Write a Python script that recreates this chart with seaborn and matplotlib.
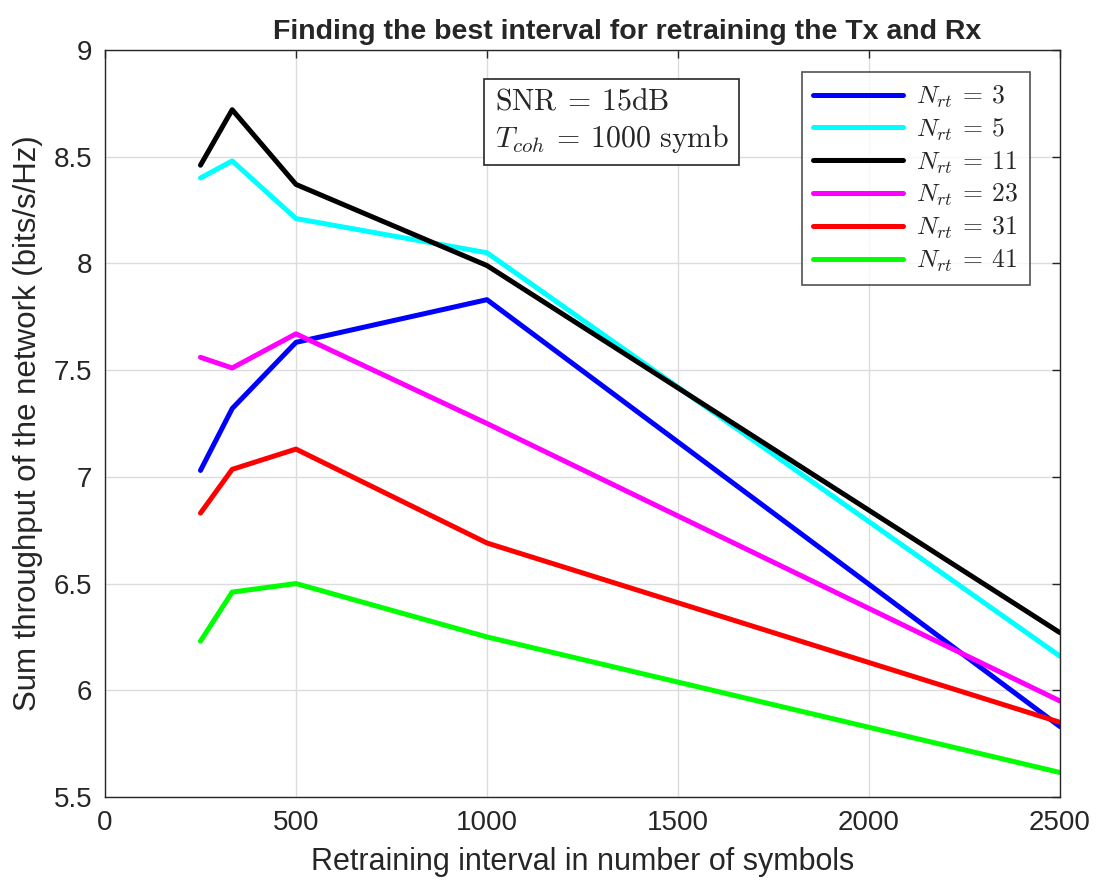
import matplotlib
matplotlib.use("Agg")
import matplotlib.pyplot as plt
import seaborn as sns
import pandas as pd

# Retraining intervals (symbols)
intervals = [250, 333, 500, 1000, 2500]

# Sum throughput (bits/s/Hz) for each number of retraining pilots
n_rt = [3, 5, 11, 23, 31, 41]
thr_3 = [7.03, 7.32, 7.63, 7.83, 5.83]
thr_5 = [8.40, 8.48, 8.21, 8.05, 6.16]
thr_11 = [8.46, 8.72, 8.37, 7.99, 6.27]
thr_23 = [7.56, 7.51, 7.67, 7.25, 5.95]
thr_31 = [6.83, 7.035, 7.13, 6.69, 5.85]
thr_41 = [6.23, 6.46, 6.50, 6.25, 5.615]

series = [thr_3, thr_5, thr_11, thr_23, thr_31, thr_41]
line_colors = ["#0000ff", "#00ffff", "#000000", "#ff00ff", "#ff0000", "#00ff00"]

x_ticks = [0, 500, 1000, 1500, 2000, 2500]
y_ticks = [5.5, 6, 6.5, 7, 7.5, 8, 8.5, 9]

labels = [rf"$N_{{rt}}\:=\:{n}$" for n in n_rt]

rows = []
for lab, vals in zip(labels, series):
    for x, y in zip(intervals, vals):
        rows.append({"interval": x, "throughput": y, "config": lab})
df = pd.DataFrame(rows)

sns.set_theme(style="white")
plt.rcParams["font.family"] = ["Liberation Sans", "DejaVu Sans"]
plt.rcParams["mathtext.fontset"] = "cm"

fig = plt.figure(figsize=(10.97, 8.92), dpi=100)
ax = fig.add_axes([0.0957, 0.1065, 0.8705, 0.8375])

sns.lineplot(data=df, x="interval", y="throughput", hue="config",
             palette=dict(zip(labels, line_colors)), hue_order=labels,
             linewidth=3.6, ax=ax, legend=True)

ax.set_xlim(0, 2500)
ax.set_ylim(5.5, 9)
ax.set_xticks(x_ticks)
ax.set_yticks(y_ticks)
ax.set_xticklabels([str(t) for t in x_ticks])
ax.set_yticklabels([f"{t:g}" for t in y_ticks])
ax.grid(True, color="#dcdcdc", linewidth=1.0)
ax.tick_params(direction="in", length=6, width=1, color="#262626",
               labelsize=20, labelcolor="#262626", top=True, right=True,
               pad=9)
for s in ax.spines.values():
    s.set_color("#262626")
    s.set_linewidth(1.0)

ax.set_xlabel("Retraining interval in number of symbols", fontsize=22,
              color="#262626", labelpad=8)
ax.set_ylabel("Sum throughput of the network (bits/s/Hz)", fontsize=22.5,
              color="#262626", labelpad=8)
ax.set_title("Finding the best interval for retraining the Tx and Rx",
             fontsize=20.5, fontweight="bold", pad=8, x=0.547)

leg = ax.legend(loc="upper right", bbox_to_anchor=(0.9686, 0.9705),
                borderaxespad=0.0, fontsize=18.5, frameon=True,
                fancybox=False, edgecolor="#262626", handlelength=3.5,
                labelspacing=0.25, borderpad=0.45, handletextpad=0.5)
leg.get_frame().set_linewidth(1.2)
for line in leg.get_lines():
    line.set_linewidth(3.6)

ax.text(0.408, 0.950,
        "$\\mathrm{SNR}\\:=\\:15\\mathrm{dB}$\n$T_{coh}\\:=\\:1000\\ \\mathrm{symb}$",
        transform=ax.transAxes, fontsize=21.5, va="top", ha="left",
        linespacing=1.3,
        bbox=dict(boxstyle="square,pad=0.35", facecolor="white",
                  edgecolor="#262626", linewidth=1.2))

fig.savefig("out.png", dpi=100)
